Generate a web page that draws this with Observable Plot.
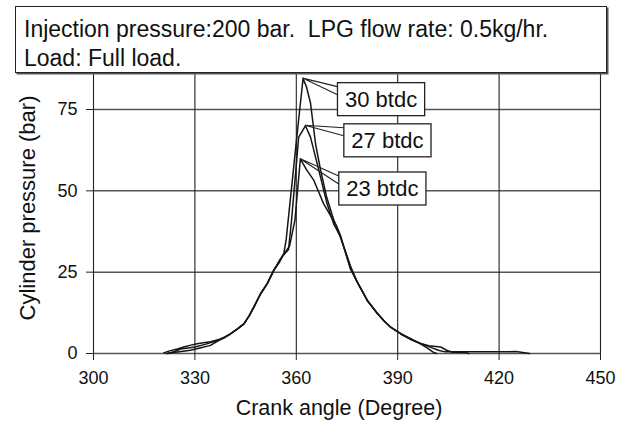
<!DOCTYPE html>
<html>
<head>
<meta charset="utf-8">
<script src="https://cdn.jsdelivr.net/npm/d3@7"></script>
<script src="https://cdn.jsdelivr.net/npm/@observablehq/plot@0.6"></script>
<style>
  html, body { margin: 0; padding: 0; background: #fff; }
  #wrap { position: relative; width: 629px; height: 427px; font-family: "Liberation Sans", Arial, sans-serif; }
  #hdr {
    position: absolute; left: 15px; top: 6px; width: 592px; height: 67px; box-sizing: border-box;
    border: 1.5px solid #222; box-shadow: 1.5px 1.5px 0 #555; background: #fff;
    font-size: 23px; line-height: 29px; padding: 8px 0 0 8px; color: #111; white-space: pre;
  }
</style>
</head>
<body>
<div id="wrap"><div id="hdr"></div></div>
<script>
// ---- data ----
const headerLines = ["Injection pressure:200 bar.  LPG flow rate: 0.5kg/hr.", "Load: Full load."];
const xLabel = "Crank angle (Degree)";
const yLabel = "Cylinder pressure (bar)";
const xTicks = [300, 330, 360, 390, 420, 450];
const yTicks = [0, 25, 50, 75];
const seriesNames = ["30 btdc", "27 btdc", "23 btdc"];

const angle30 = [320.8,322.5,324.8,326.7,328.5,330.7,332.5,334.6,336,337.6,339,340.5,342.5,344.5,346,347.4,349.4,351.4,353.3,355,356.3,357,357.6,359,360.5,362,363,364.2,365.7,367.2,369,371.1,373,376,378,381,384,386,388,391,394,397,400,402,404,406,410,415,420,425,429];
const p30 = [0.2,0.8,1.4,2,2.5,3,3.3,3.6,4,4.5,5.2,6,7.5,9.1,11.5,14.2,18.3,21.5,25.5,28.5,30.7,35,41,55,70,84.5,82,77,64.4,56.3,48,41,36.5,26,22,16.3,12.3,10,8,6,4.2,3,1.8,1,0.5,0.5,0.5,0.5,0.5,0.6,0];

const angle27 = [322,324,325.7,328,330,333,336.6,338.5,340.5,342.5,344.5,346,347.4,349.4,351.4,353.3,355,356,357.7,358.6,360.7,362.7,364.2,366.2,369.1,371,373,376,378,381,384,386,388,391,394.8,396.7,399.2,402.7,404.5,406.1,410,411];
const p27 = [0,0.6,1.4,1.7,2,2.8,4,4.8,6,7.5,9.1,11.5,14.2,18.3,21.5,25.5,28,30,32,41,66.5,70,66.5,58.3,46,40,36,26.5,22,16.3,12.3,10,8,6,4,3.1,2.4,2,1,0.4,0.3,0];

const angle23 = [321.5,324.3,326.5,328.7,331.5,334.6,337,339,340.5,342.5,344.5,346,347.4,349.4,351.4,353.3,355,356.3,358,359.6,361.2,363,365.2,368.1,372,374,376,378,381,384,386,388,391,394.8,397,399,400.7,401.5];
const p23 = [0,0.4,0.7,1,1.7,2.5,4,5,6,7.5,9.1,11.5,14.2,18.3,21.5,25.5,28.5,30.5,33,41,59.8,56.5,53.2,46,39,33,27,22,16.3,12.3,10,8,6,4,2.8,1.5,0.3,0];

// ---- build ----
document.getElementById("hdr").textContent = headerLines.join("\n");

const seriesData = [
  {name: seriesNames[0], angle: angle30, p: p30},
  {name: seriesNames[1], angle: angle27, p: p27},
  {name: seriesNames[2], angle: angle23, p: p23}
];
const rows = seriesData.flatMap(s => s.angle.map((a, i) => ({series: s.name, angle: a, p: s.p[i]})));
const peaks = seriesData.map(s => {
  const i = d3.maxIndex(s.p);
  return {series: s.name, angle: s.angle[i], p: s.p[i]};
});
// label offsets (pixels) from each curve's peak
const calloutStyle = [
  {dx: 78, dy: 21},
  {dx: 82, dy: 15},
  {dx: 82, dy: 30}
];

const font = "Liberation Sans, Arial, sans-serif";
const chart = Plot.plot({
  width: 629, height: 427,
  marginLeft: 93, marginRight: 29, marginTop: 73, marginBottom: 74,
  style: {fontFamily: font, fontSize: "18px", color: "#111", background: "#fff", overflow: "visible"},
  x: {domain: [300, 450]},
  y: {domain: [0, 86.07]},
  marks: [
    Plot.ruleY(yTicks, {stroke: "#555", strokeWidth: 1.5}),
    Plot.ruleX(xTicks, {stroke: "#222", strokeWidth: 1.1}),
    Plot.axisX({ticks: xTicks, tickSize: 7, tickPadding: 11, tickFormat: d => d, label: null, stroke: "#222", fontSize: 18}),
    Plot.axisY({ticks: yTicks, tickSize: 7, tickPadding: 9, tickFormat: d => d, label: null, stroke: "#222", fontSize: 18}),
    Plot.line(rows, {x: "angle", y: "p", z: "series", stroke: "#151515", strokeWidth: 1.5, curve: "linear"}),
    Plot.text([xLabel], {frameAnchor: "bottom", dx: -8, dy: 55, lineAnchor: "middle", fontSize: 21.5, fill: "#111"}),
    ...peaks.map((pk, i) => Plot.text([pk], {
      x: "angle", y: "p", text: "series", dx: calloutStyle[i].dx, dy: calloutStyle[i].dy,
      fontSize: 22, fill: "#111", className: "callout" + i
    }))
  ]
});
document.getElementById("wrap").appendChild(chart);
chart.style.position = "absolute";
chart.style.left = "0px";
chart.style.top = "0px";
document.getElementById("wrap").appendChild(document.getElementById("hdr"));

// y-axis title (rotated)
d3.select(chart).append("text")
  .attr("transform", "translate(27,208) rotate(-90)")
  .attr("text-anchor", "middle").attr("dy", "0.35em")
  .attr("font-size", 22).attr("fill", "#111").attr("font-family", font)
  .text(yLabel);

// callout boxes with wedge pointers
const sb = chart.getBoundingClientRect();
const xs = chart.scale("x"), ys = chart.scale("y");
const ann = d3.select(chart).append("g");
const textGroups = [];
peaks.forEach((pk, i) => {
  const g = chart.querySelector("g.callout" + i);
  const t = g.querySelector("text");
  const b = t.getBoundingClientRect();
  const x0 = b.left - sb.left - 7.5, x1 = b.right - sb.left + 7.5;
  const y0 = b.top - sb.top - 4, y1 = b.bottom - sb.top + 4;
  const tx = xs.apply(pk.angle), ty = ys.apply(pk.p);
  ann.append("rect").attr("x", x0).attr("y", y0).attr("width", x1 - x0).attr("height", y1 - y0)
    .attr("fill", "#fff").attr("stroke", "#222").attr("stroke-width", 1.3);
  ann.append("path").attr("d", `M${x0},${y0 + 4}L${tx},${ty}L${x0},${y0 + 12}`)
    .attr("fill", "none").attr("stroke", "#222").attr("stroke-width", 1.1);
  textGroups.push(g);
});
textGroups.forEach(g => chart.appendChild(g));
</script>
</body>
</html>
